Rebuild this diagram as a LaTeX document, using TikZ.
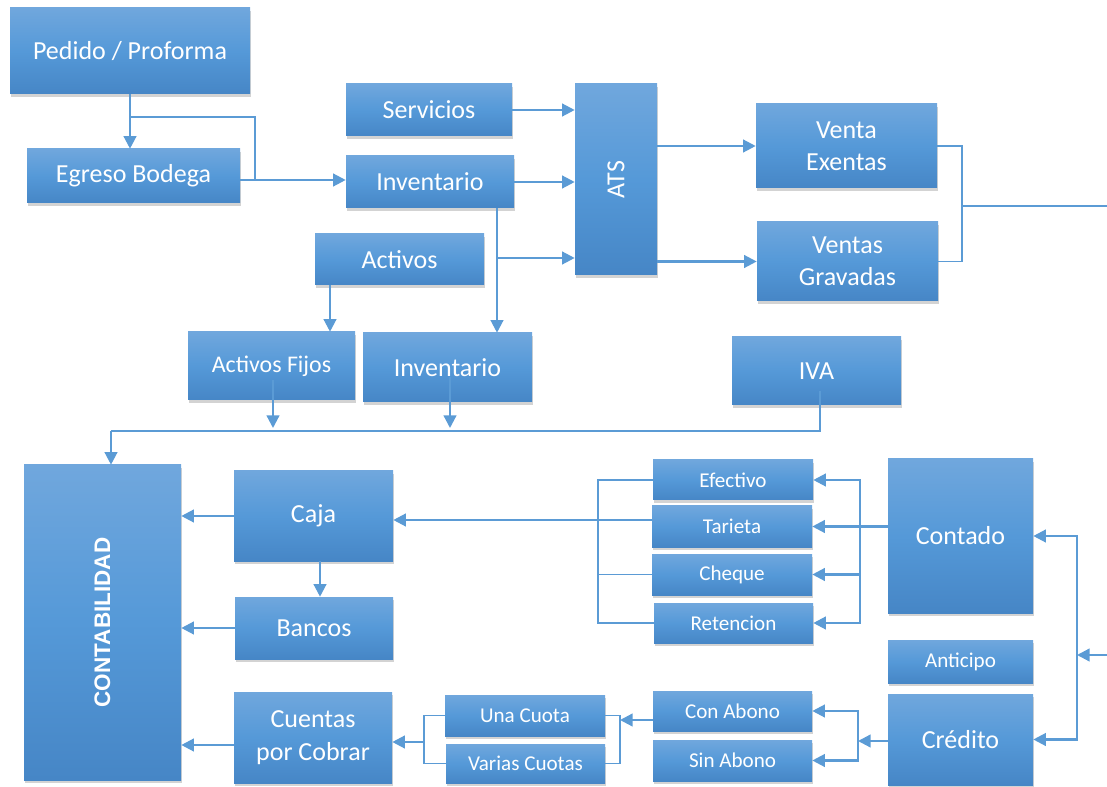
\documentclass[tikz,border=0pt]{standalone}
\usepackage{fontspec}
\setmainfont{Carlito}
\newfontfamily\headfont{Liberation Sans}
\usetikzlibrary{arrows.meta,positioning,calc,shadows}

\definecolor{boxtop}{HTML}{70A7DD}
\definecolor{boxmid}{HTML}{5599D8}
\definecolor{boxbot}{HTML}{4686C6}
\definecolor{flow}{HTML}{5B9BD5}

\begin{document}
\begin{tikzpicture}[
    x=0.025cm, y=-0.025cm,
    box/.style 2 args={rectangle, top color=boxtop, bottom color=boxbot, middle color=boxmid,
                text=white, align=center, inner sep=2pt,
                minimum width=#1*0.025cm, minimum height=#2*0.025cm,
                font=\fontsize{18.5}{23}\selectfont,
                drop shadow={shadow xshift=0.6pt, shadow yshift=-2.2pt, opacity=0.35}},
    small/.style={font=\fontsize{15}{18}\selectfont},
    arrow/.style={-{Triangle[length=9pt, width=9pt]}, line width=1.6pt, draw=flow},
    bar/.style={line width=1.6pt, draw=flow, line cap=rect},
    mid/.style={line width=1.2pt, draw=flow},
    link/.style={line width=0.9pt, draw=flow},
]
\useasboundingbox (0,0) rectangle (1107,787);

% Pedido / bodega
\node[box={240}{86}] (pedido) at (130,51) {Pedido / Proforma};
\node[box={213}{54}] (egreso) at (133.5,176) {Egreso Bodega};

% Entradas al ATS
\node[box={166}{52}] (serv) at (429,110) {Servicios};
\node[box={168}{52}] (inv1) at (430,182) {Inventario};
\node[box={82}{191}, label={[rotate=90, text=white, font=\fontsize{18.5}{22}\selectfont]center:ATS}] (ats) at (616,179.5) {};

% Ventas
\node[box={181}{84}] (exentas) at (846.5,146) {Venta\\Exentas};
\node[box={181}{79}] (gravadas) at (847.5,261.5) {Ventas\\Gravadas};

% Activos
\node[box={169}{51}] (activos) at (399.5,259.5) {Activos};
\node[box={167}{68}, font=\fontsize{17}{20}\selectfont] (fijos) at (271.5,366) {Activos Fijos};
\node[box={169}{69}] (inv2) at (447.5,367.5) {Inventario};
\node[box={169}{68}] (iva) at (816.5,371) {IVA};

% Contabilidad
\node[box={157}{315}, label={[rotate=90, text=white, font=\headfont\bfseries\fontsize{16}{19}\selectfont]center:CONTABILIDAD}] (conta) at (102.5,622.5) {};
\node[box={159}{90}] (caja) at (313.5,516) {Caja};
\node[box={158}{62}] (bancos) at (314,628) {Bancos};
\node[box={158}{91}] (cxc) at (313,737.5) {Cuentas\\por Cobrar};
\node[box={160}{41}, small] (una) at (525,715.5) {Una Cuota};
\node[box={159}{39}, small] (varias) at (525.5,763.5) {Varias Cuotas};

% Formas de pago
\node[box={160}{40}, small] (efectivo) at (733,480) {Efectivo};
\node[box={160}{41}, small] (tarjeta) at (732,526.5) {Tarieta};
\node[box={160}{41}, small] (cheque) at (732,574.5) {Cheque};
\node[box={159}{40}, small] (retencion) at (733.5,623) {Retencion};
\node[box={159}{40}, small] (conabono) at (732.5,711) {Con Abono};
\node[box={159}{41}, small] (sinabono) at (732.5,760.5) {Sin Abono};

% Tipo de venta
\node[box={145}{154}] (contado) at (960.5,536) {Contado};
\node[box={145}{43}, small] (anticipo) at (960.5,661.5) {Anticipo};
\node[box={145}{91}] (credito) at (960.5,739.5) {Crédito};

% Junction points
\coordinate (pj) at (130,117);
\coordinate (pk) at (255,180);
\coordinate (vx) at (497,258);
\coordinate (sb) at (962,206);
\coordinate (se) at (1107,206);
\coordinate (ax) at (330,0);
\coordinate (fx) at (273,428);
\coordinate (ix) at (450,428);
\coordinate (bus) at (111,431);
\coordinate (ivx) at (820,431);
\coordinate (cy) at (0,745);
\coordinate (bx) at (320,0);
\coordinate (pb) at (598,520);
\coordinate (pm) at (522,520);
\coordinate (cb) at (860,526);
\coordinate (rb) at (1077,655);
\coordinate (re) at (1107,655);
\coordinate (kb) at (858,741);
\coordinate (qb) at (620,720);
\coordinate (lb) at (424,742);

% Flujo superior
\draw[arrow] (pedido.south) -- (pedido.south |- egreso.north);
\draw[link] (pj) -| (pk);
\draw[arrow] (egreso.east |- pk) -- (inv1.west |- pk);
\draw[arrow] (serv.east) -- (ats.west |- serv.east);
\draw[arrow] (inv1.east) -- (ats.west |- inv1.east);
\draw[arrow] (inv1.south -| vx) -- (inv2.north -| vx);
\draw[arrow] (vx) -- (ats.west |- vx);
\draw[arrow] (ats.east |- exentas.west) -- (exentas.west);
\draw[arrow] (ats.east |- gravadas.west) -- (gravadas.west);
\draw[link] (exentas.east) -| (sb) |- (gravadas.east);
\draw[mid] (sb) -- (se);

% Activos e IVA
\draw[arrow] (activos.south -| ax) -- (fijos.north -| ax);
\draw[arrow] ($(fijos.center -| fx)+(0,14)$) -- (fx);
\draw[arrow] ($(inv2.center -| ix)+(0,10)$) -- (ix);
\draw[mid] ($(iva.center -| ivx)+(0,20)$) -- (ivx) -- (bus);
\draw[arrow] (bus) -- (conta.north -| bus);

% Contabilidad
\draw[arrow] (caja.west) -- (conta.east |- caja.west);
\draw[arrow] (bancos.west) -- (conta.east |- bancos.west);
\draw[arrow] (cxc.west |- cy) -- (conta.east |- cy);
\draw[arrow] (caja.south -| bx) -- (bancos.north -| bx);

% Formas de pago
\draw[link] (efectivo.west) -- (efectivo.west -| pb) -- (retencion.west -| pb) -- (retencion.west);
\draw[link] (cheque.west) -- (cheque.west -| pb);
\draw[link] (tarjeta.west |- pb) -- (pb) -- (pm);
\draw[arrow] (pm) -- (caja.east |- pm);
\draw[arrow] (contado.west |- tarjeta.east) -- (tarjeta.east);
\draw[bar] (efectivo.east -| cb) -- (retencion.east -| cb);
\draw[arrow] (efectivo.east -| cb) -- (efectivo.east);
\draw[arrow] (cheque.east -| cb) -- (cheque.east);
\draw[arrow] (retencion.east -| cb) -- (retencion.east);

% Contado / Credito
\draw[arrow] (re) -- (rb);
\draw[arrow] (rb) |- (contado.east);
\draw[arrow] (rb) |- (credito.east);
\draw[arrow] (credito.west |- kb) -- (kb);
\draw[bar] (conabono.east -| kb) -- (sinabono.east -| kb);
\draw[arrow] (conabono.east -| kb) -- (conabono.east);
\draw[arrow] (sinabono.east -| kb) -- (sinabono.east);

% Cuotas
\draw[link] (una.east) -- (una.east -| qb) -- (varias.east -| qb) -- (varias.east);
\draw[arrow] (conabono.west |- qb) -- (qb);
\draw[link] (una.west) -- (una.west -| lb) -- (varias.west -| lb) -- (varias.west);
\draw[arrow] (lb) -- (cxc.east |- lb);

\end{tikzpicture}
\end{document}
